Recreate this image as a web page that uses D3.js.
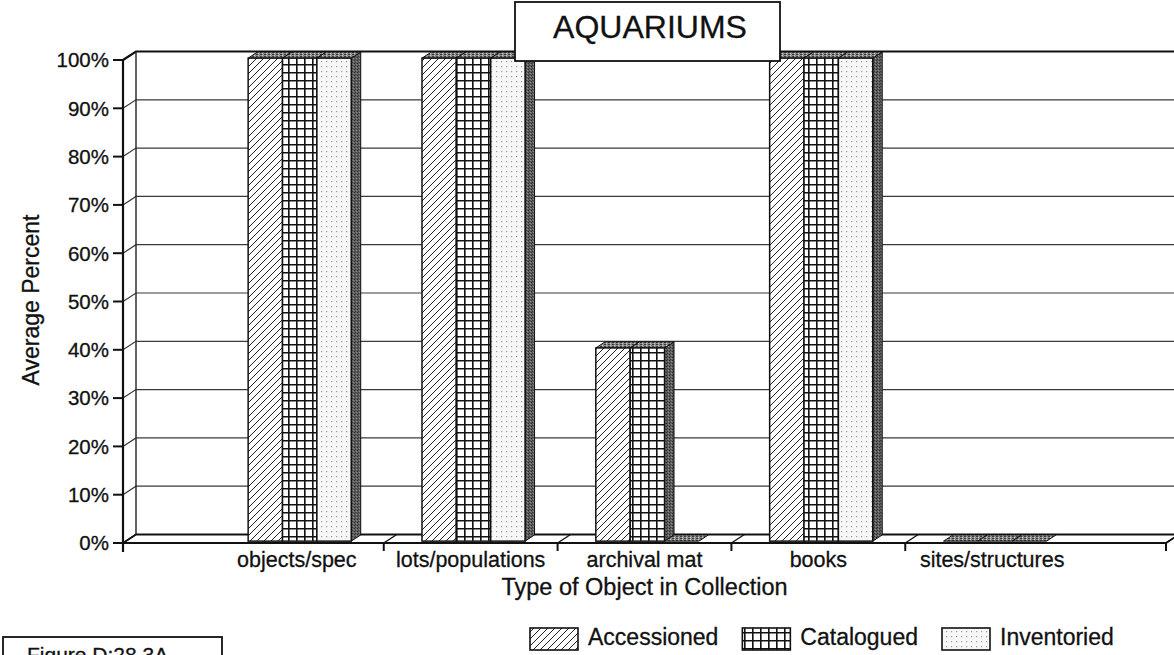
<!DOCTYPE html>
<html>
<head>
<meta charset="utf-8">
<script src="https://cdn.jsdelivr.net/npm/d3@7"></script>
<style>
  html, body { margin: 0; padding: 0; background: #fff; }
  svg { display: block; font-family: "Liberation Sans", Arial, Helvetica, sans-serif; }
  svg text { fill: #111; stroke: #111; stroke-width: 0.3px; }
</style>
</head>
<body>
<svg id="chart" width="1174" height="655"></svg>
<script>
// ---- data ----
const categories = ["objects/spec", "lots/populations", "archival mat", "books", "sites/structures"];
const seriesNames = ["Accessioned", "Catalogued", "Inventoried"];
const accessioned = [100, 100, 40, 100, 0];
const catalogued  = [100, 100, 40, 100, 0];
const inventoried = [100, 100, 0, 100, 0];
const yTickValues = [0, 10, 20, 30, 40, 50, 60, 70, 80, 90, 100];
const chartTitle = "AQUARIUMS";
const xTitle = "Type of Object in Collection";
const yTitle = "Average Percent";
const figureLabel = "Figure D:28.3A";

const seriesValues = [accessioned, catalogued, inventoried];
const seriesFill = ["url(#hatch)", "url(#grid)", "url(#dots)"];

const svg = d3.select("#chart");

// ---- 3D frame geometry ----
const x0 = 123, x1 = 1166, yBase = 543, yTop = 60;
const depth = { dx: 13, dy: -8.5 };
const t1 = 0.22, t2 = 0.95;          // bar front / back planes
const P = (px, py, t) => [px + t * depth.dx, py + t * depth.dy];

const x = d3.scaleBand().domain(categories).range([x0, x1]).paddingInner(0).paddingOuter(0.5);
const y = d3.scaleLinear().domain([0, 100]).range([yBase, yTop]);
const groupW = x.step() * 0.593;
const xs = d3.scaleBand().domain(seriesNames).range([0, groupW]);

// ---- patterns ----
const defs = svg.append("defs");

const hatch = defs.append("pattern").attr("id", "hatch")
  .attr("patternUnits", "userSpaceOnUse").attr("width", 7).attr("height", 7);
hatch.append("rect").attr("width", 7).attr("height", 7).attr("fill", "#fff");
hatch.append("path").attr("d", "M-1,1 l2,-2 M0,7 l7,-7 M6,8 l2,-2")
  .attr("stroke", "#222").attr("stroke-width", 1);

const grid = defs.append("pattern").attr("id", "grid")
  .attr("patternUnits", "userSpaceOnUse").attr("width", 8).attr("height", 8);
grid.append("rect").attr("width", 8).attr("height", 8).attr("fill", "#fff");
grid.append("path").attr("d", "M0,0.8 H8 M0.8,0 V8")
  .attr("stroke", "#111").attr("stroke-width", 1.6);

const dots = defs.append("pattern").attr("id", "dots")
  .attr("patternUnits", "userSpaceOnUse").attr("width", 5).attr("height", 5);
dots.append("rect").attr("width", 5).attr("height", 5).attr("fill", "#f7f7f7");
dots.append("rect").attr("x", 1).attr("y", 1).attr("width", 1.2).attr("height", 1.2).attr("fill", "#9a9a9a");

const side = defs.append("pattern").attr("id", "side")
  .attr("patternUnits", "userSpaceOnUse").attr("width", 3).attr("height", 3);
side.append("rect").attr("width", 3).attr("height", 3).attr("fill", "#5e5e5e");
side.append("rect").attr("x", 0).attr("y", 0).attr("width", 1).attr("height", 1).attr("fill", "#2e2e2e");
side.append("rect").attr("x", 2).attr("y", 1).attr("width", 1).attr("height", 1).attr("fill", "#8a8a8a");
side.append("rect").attr("x", 1).attr("y", 2).attr("width", 1).attr("height", 1).attr("fill", "#3a3a3a");

const topFace = defs.append("pattern").attr("id", "topface")
  .attr("patternUnits", "userSpaceOnUse").attr("width", 4).attr("height", 2);
topFace.append("rect").attr("width", 4).attr("height", 2).attr("fill", "#8c8c8c");
topFace.append("rect").attr("x", 0).attr("y", 0).attr("width", 2).attr("height", 1).attr("fill", "#3c3c3c");
topFace.append("rect").attr("x", 2).attr("y", 1).attr("width", 1).attr("height", 1).attr("fill", "#c8c8c8");

const line = d3.line();
const poly = pts => line(pts) + "Z";

// ---- back wall ----
svg.append("path")
  .attr("d", poly([P(x0, y(0), 1), P(x1, y(0), 1), P(x1, y(100), 1), P(x0, y(100), 1)]))
  .attr("fill", "#fff").attr("stroke", "none");

// gridlines on back wall and left wall
const gridG = svg.append("g");
yTickValues.filter(v => v > 0 && v < 100).forEach(v => {
  gridG.append("path")
    .attr("d", line([[x0, y(v)], P(x0, y(v), 1), P(x1 + 40, y(v), 1)]))
    .attr("fill", "none").attr("stroke", "#3a3a3a").attr("stroke-width", 1.2);
});

// top edge of back wall
svg.append("path")
  .attr("d", line([[x0, y(100)], P(x0, y(100), 1), P(x1 + 40, y(100), 1)]))
  .attr("fill", "none").attr("stroke", "#111").attr("stroke-width", 2.2);

// back-left edge
svg.append("path")
  .attr("d", line([P(x0, y(100), 1), P(x0, y(0), 1)]))
  .attr("fill", "none").attr("stroke", "#222").attr("stroke-width", 1.4);

// ---- floor ----
svg.append("path")
  .attr("d", poly([[x0, yBase], [x1, yBase], P(x1, yBase, 1), P(x0, yBase, 1)]))
  .attr("fill", "#fff").attr("stroke", "#111").attr("stroke-width", 1.8);

const boundaries = [x0].concat(categories.slice(1).map(c => x(c))).concat([x1]);
boundaries.forEach(bx => {
  svg.append("path").attr("d", line([[bx, yBase], P(bx, yBase, 1)]))
    .attr("stroke", "#111").attr("stroke-width", 1.4).attr("fill", "none");
  svg.append("line").attr("x1", bx).attr("x2", bx).attr("y1", yBase).attr("y2", yBase + 8)
    .attr("stroke", "#111").attr("stroke-width", 2);
});

// ---- bars ----
const barsG = svg.append("g");
categories.forEach((cat, i) => {
  seriesNames.forEach((s, j) => {
    const v = seriesValues[j][i];
    const left = x(cat) + (x.step() - groupW) / 2 + xs(s);
    const w = xs.bandwidth();
    const g = barsG.append("g");
    // side face
    if (v > 0) {
      g.append("path")
        .attr("d", poly([P(left + w, y(v), t1), P(left + w, y(0), t1), P(left + w, y(0), t2), P(left + w, y(v), t2)]))
        .attr("fill", "url(#side)").attr("stroke", "#111").attr("stroke-width", 1);
    }
    // top face
    g.append("path")
      .attr("d", poly([P(left, y(v), t1), P(left + w, y(v), t1), P(left + w, y(v), t2), P(left, y(v), t2)]))
      .attr("fill", "url(#topface)").attr("stroke", "#111").attr("stroke-width", 1);
    // front face
    if (v > 0) {
      const a = P(left, y(v), t1), b = P(left + w, y(0), t1);
      g.append("rect")
        .attr("x", a[0]).attr("y", a[1]).attr("width", b[0] - a[0]).attr("height", b[1] - a[1])
        .attr("fill", seriesFill[j]).attr("stroke", "#111").attr("stroke-width", 1.5);
    }
  });
});

// ---- front y axis ----
svg.append("line").attr("x1", x0).attr("x2", x0).attr("y1", y(100)).attr("y2", yBase + 9)
  .attr("stroke", "#111").attr("stroke-width", 2.2);

const yAxisG = svg.append("g");
yTickValues.forEach(v => {
  yAxisG.append("line").attr("x1", x0 - 10).attr("x2", x0).attr("y1", y(v)).attr("y2", y(v))
    .attr("stroke", "#111").attr("stroke-width", 2);
  yAxisG.append("text").attr("x", x0 - 14).attr("y", y(v)).attr("dy", "0.36em")
    .attr("text-anchor", "end").attr("font-size", 20.5)
    .text(v + "%");
});

// category labels
categories.forEach(cat => {
  svg.append("text").attr("x", x(cat) + x.bandwidth() / 2).attr("y", 567)
    .attr("text-anchor", "middle").attr("font-size", 21.5).text(cat);
});

// axis titles
svg.append("text").attr("x", (x0 + x1) / 2).attr("y", 595)
  .attr("text-anchor", "middle").attr("font-size", 23.5).text(xTitle);
svg.append("text").attr("transform", "translate(39,300) rotate(-90)")
  .attr("text-anchor", "middle").attr("font-size", 23).text(yTitle);

// ---- title box ----
svg.append("rect").attr("x", 515).attr("y", 2).attr("width", 265).attr("height", 59)
  .attr("fill", "#fff").attr("stroke", "#111").attr("stroke-width", 1.8);
svg.append("text").attr("x", 650).attr("y", 38).attr("text-anchor", "middle")
  .attr("font-size", 32).text(chartTitle);

// ---- legend ----
const legendFont = 23;
const legendG = svg.append("g");
const swW = 48, swH = 22, swY = 628, gap = 10;
const measure = txt => {
  const t = legendG.append("text").attr("font-size", legendFont).text(txt);
  const wdt = t.node().getComputedTextLength(); t.remove(); return wdt;
};
const swX = [530, 0, 942];
swX[1] = 918 - measure(seriesNames[1]) - gap - swW;
seriesNames.forEach((s, j) => {
  legendG.append("rect").attr("x", swX[j]).attr("y", swY).attr("width", swW).attr("height", swH)
    .attr("fill", seriesFill[j]).attr("stroke", "#111").attr("stroke-width", 1.6);
  legendG.append("text").attr("x", swX[j] + swW + gap).attr("y", swY + 17)
    .attr("font-size", legendFont).text(s);
});

// ---- figure label box ----
svg.append("rect").attr("x", 3).attr("y", 637).attr("width", 219).attr("height", 40)
  .attr("fill", "#fff").attr("stroke", "#111").attr("stroke-width", 1.8);
svg.append("text").attr("x", 27).attr("y", 662).attr("font-size", 21).text(figureLabel);
</script>
</body>
</html>
